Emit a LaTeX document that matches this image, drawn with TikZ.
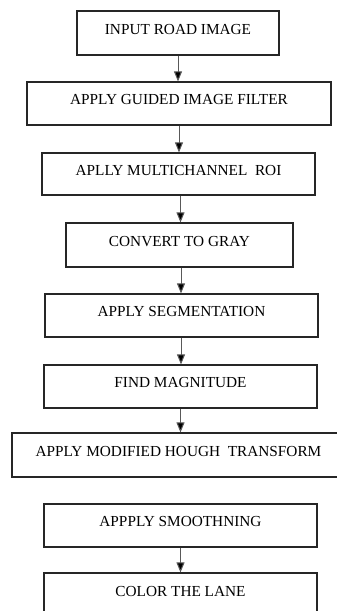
\documentclass[tikz,border=0pt]{standalone}
\usepackage{fontspec}
\setmainfont{Liberation Serif}
\usetikzlibrary{arrows.meta}
\begin{document}
\begin{tikzpicture}[x=1pt,y=-1pt,
  stepbox/.style={draw=black!85,line width=1.2pt,rectangle,inner sep=0pt,
    text depth=8pt,font=\fontsize{15.3}{17}\selectfont},
  flow/.style={draw=black!65,line width=1pt,-{Triangle[width=8pt,length=10pt,fill=black]}}]
\useasboundingbox (0,0) rectangle (337,611);
\clip (0,0) rectangle (337,611);
\node[stepbox,minimum width=202pt,minimum height=44pt] (b1) at (178,33) {INPUT ROAD IMAGE};
\node[stepbox,minimum width=304pt,minimum height=43pt] (b2) at (179,103.5) {APPLY GUIDED IMAGE FILTER};
\node[stepbox,minimum width=273pt,minimum height=42pt] (b3) at (178.5,174) {APLLY MULTICHANNEL\ \ ROI};
\node[stepbox,minimum width=227pt,minimum height=44pt] (b4) at (179.5,245) {CONVERT TO GRAY};
\node[stepbox,minimum width=273pt,minimum height=43pt] (b5) at (181.5,315.5) {APPLY SEGMENTATION};
\node[stepbox,minimum width=273pt,minimum height=43pt] (b6) at (180.5,386.5) {FIND MAGNITUDE};
\node[stepbox,minimum width=333pt,minimum height=44pt] (b7) at (178.5,455) {APPLY MODIFIED HOUGH\ \ TRANSFORM};
\node[stepbox,minimum width=273pt,minimum height=43pt] (b8) at (180.5,525.5) {APPPLY SMOOTHNING};
\node[stepbox,minimum width=273pt,minimum height=44pt] (b9) at (180.5,595) {COLOR THE LANE};
\draw[flow] (b1.south) -- (b1.south |- b2.north);
\draw[flow] (b2.south) -- (b2.south |- b3.north);
\draw[flow] ([xshift=2pt]b3.south) -- ([xshift=2pt]b3.south |- b4.north);
\draw[flow] ([xshift=1.5pt]b4.south) -- ([xshift=1.5pt]b4.south |- b5.north);
\draw[flow] ([xshift=-0.5pt]b5.south) -- ([xshift=-0.5pt]b5.south |- b6.north);
\draw[flow] (b6.south) -- (b6.south |- b7.north);
\draw[flow] (b8.south) -- (b8.south |- b9.north);
\end{tikzpicture}
\end{document}
